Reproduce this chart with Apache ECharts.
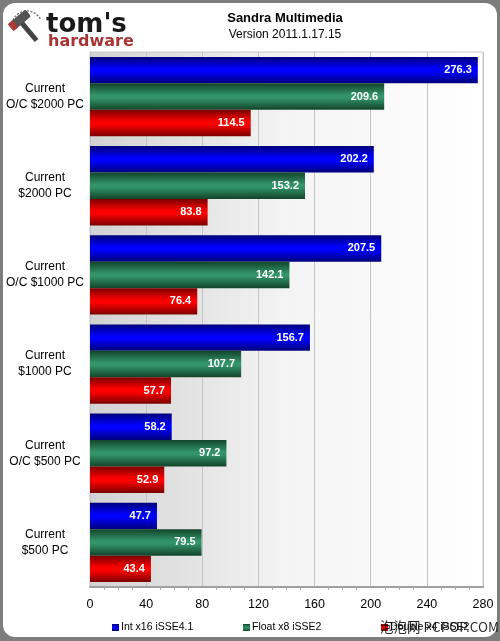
<!DOCTYPE html>
<html><head><meta charset="utf-8">
<script src="https://cdn.jsdelivr.net/npm/echarts@6/dist/echarts.min.js"></script>
<style>html,body{margin:0;padding:0;background:#7d7d7d;}#c{width:500px;height:641px;}</style>
</head><body><div id="c"></div>
<script>
const categories = ["Current\nO/C $2000 PC","Current\n$2000 PC","Current\nO/C $1000 PC","Current\n$1000 PC","Current\nO/C $500 PC","Current\n$500 PC"];
const seriesNames = ["Int x16 iSSE4.1","Float x8 iSSE2","Double x4 iSSE2"];
const intValues = [276.3,202.2,207.5,156.7,58.2,47.7];
const floatValues = [209.6,153.2,142.1,107.7,97.2,79.5];
const doubleValues = [114.5,83.8,76.4,57.7,52.9,43.4];
const xTicks = {min:0,max:280,interval:40};

function grad(dark, mid) {
  return new echarts.graphic.LinearGradient(0,0,0,1,[
    {offset:0,color:dark},{offset:0.45,color:mid},{offset:0.55,color:mid},{offset:1,color:dark}]);
}
const styles = [
  {c: grad('#00007a','#0000ff'), legend:'#0000cc'},
  {c: grad('#12442a','#33946a'), legend:'#2e8b63'},
  {c: grad('#7a0000','#ff0000'), legend:'#e00000'}
];
const allValues = [intValues, floatValues, doubleValues];
const legendLefts = [112, 243, 381];

const chart = echarts.init(document.getElementById('c'), null, {renderer:'canvas'});
chart.setOption({
  animation:false,
  backgroundColor:'transparent',
  graphic:[
    {type:'rect', z:-10, shape:{x:3,y:3,width:494,height:634,r:12}, style:{fill:'#ffffff'}},
    {type:'rect', z:-5, shape:{x:90,y:52,width:393,height:535}, style:{fill:new echarts.graphic.LinearGradient(0,0,1,0,[{offset:0,color:'#d2d2d2'},{offset:0.5,color:'#f4f4f4'},{offset:1,color:'#ffffff'}]), stroke:'#c8c8c8', lineWidth:1}},
    {type:'arc', shape:{cx:27,cy:26,r:15,startAngle:Math.PI*1.05,endAngle:Math.PI*1.85}, style:{stroke:'#777', lineWidth:1.5, lineDash:[2,1.5], fill:null}},
    {type:'group', x:22, y:24, rotation:0.7, children:[
      {type:'rect', shape:{x:-2,y:-2,width:5,height:24}, style:{fill:'#444'}},
      {type:'rect', shape:{x:-11,y:-9,width:23,height:9,r:2}, style:{fill:'#555'}},
      {type:'rect', shape:{x:-11,y:-9,width:6,height:9}, style:{fill:'#b03a3a'}}
    ]},
    {type:'text', style:{x:46, y:12, text:"tom's", fill:'#1a1a1a', font:'bold 26px "DejaVu Sans"', verticalAlign:'top'}},
    {type:'text', style:{x:48, y:34, text:'hardware', fill:'#a83434', font:'bold 16px "DejaVu Sans"', verticalAlign:'top'}},
    {type:'text', style:{x:285, y:18, text:'Sandra Multimedia', fill:'#000', font:'bold 13px "Liberation Sans"', align:'center', verticalAlign:'middle'}},
    {type:'text', style:{x:285, y:35, text:'Version 2011.1.17.15', fill:'#000', font:'12px "Liberation Sans"', align:'center', verticalAlign:'middle'}},
    {type:'text', z:100, style:{x:380, y:627, text:'泡泡网 PCPOP.COM', fill:'#000', font:'13.5px "Noto Sans CJK SC"', verticalAlign:'middle', opacity:0.85}}
  ],
  grid:{left:90,right:17,top:52,bottom:54,containLabel:false},
  legend: seriesNames.map((n,i)=>({
    top:622, left:legendLefts[i], padding:0, itemWidth:7, itemHeight:7, icon:'rect', itemGap:5,
    textStyle:{fontSize:10.5, color:'#000', fontFamily:'Liberation Sans', padding:[0,0,0,-3]},
    data:[n]
  })),
  xAxis:{
    type:'value', min:xTicks.min, max:xTicks.max, interval:xTicks.interval,
    axisLine:{show:true, lineStyle:{color:'#a0a0a0', width:2}},
    axisTick:{show:false},
    minorTick:{show:true, splitNumber:4, length:3, lineStyle:{color:'#b0b0b0'}},
    splitLine:{show:true, lineStyle:{color:'#c4c4c4', width:1}},
    axisLabel:{fontSize:12.5, color:'#000', fontFamily:'Liberation Sans', margin:11}
  },
  yAxis:{
    type:'category', data:categories, inverse:true,
    axisLine:{show:true, lineStyle:{color:'#c0c0c0'}},
    axisTick:{show:false},
    axisLabel:{fontSize:12, color:'#000', fontFamily:'Liberation Sans', align:'center', margin:45, lineHeight:16}
  },
  series: allValues.map((vals,i)=>({
    name:seriesNames[i], type:'bar', data:vals,
    barGap:'0%', barCategoryGap:'11%',
    color: styles[i].legend,
    itemStyle:{color:styles[i].c},
    label:{show:true, position:'insideRight', color:'#fff', fontWeight:'bold', fontSize:11, fontFamily:'Liberation Sans', formatter:p=>p.value.toFixed(1), offset:[-1,0]}
  }))
});
</script></body></html>
